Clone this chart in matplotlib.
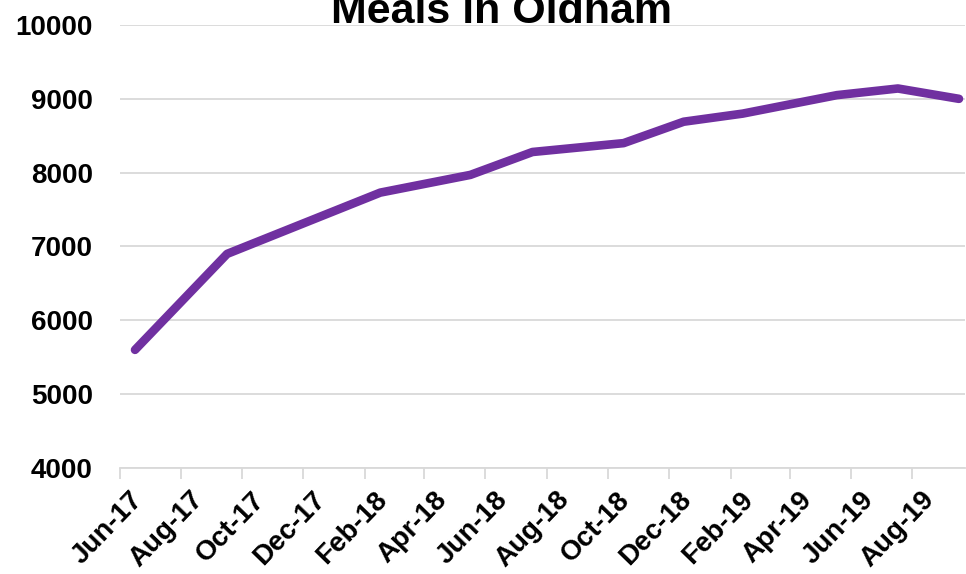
import matplotlib
matplotlib.use("Agg")
import matplotlib.pyplot as plt
import matplotlib.transforms as mtrans
import pandas as pd

# Data
dates = ["2017-06-16", "2017-09-16", "2018-02-16", "2018-05-17", "2018-07-18",
         "2018-10-17", "2018-12-16", "2019-02-13", "2019-05-18", "2019-07-18",
         "2019-09-17"]
meals = [5600, 6900, 7730, 7970, 8280, 8400, 8690, 8800, 9050, 9140, 9000]
tick_dates = ["2017-06-01", "2017-08-01", "2017-10-01", "2017-12-01", "2018-02-01",
              "2018-04-01", "2018-06-01", "2018-08-01", "2018-10-01", "2018-12-01",
              "2019-02-01", "2019-04-01", "2019-06-01", "2019-08-01"]
tick_labels = ["Jun-17", "Aug-17", "Oct-17", "Dec-17", "Feb-18", "Apr-18", "Jun-18",
               "Aug-18", "Oct-18", "Dec-18", "Feb-19", "Apr-19", "Jun-19", "Aug-19"]
y_ticks = [4000, 5000, 6000, 7000, 8000, 9000, 10000]
title = "Meals in Oldham"

plt.rcParams['font.family'] = ['Liberation Sans', 'DejaVu Sans']

W, H = 966, 574
fig = plt.figure(figsize=(W / 100, H / 100), dpi=100)
ax = fig.add_axes([120 / W, 1 - 468 / H, (965 - 120) / W, (468 - 25) / H])

x = pd.to_datetime(dates)
ax.plot(x, meals, color="#7030A0", linewidth=6.2, solid_capstyle="round",
        solid_joinstyle="round", zorder=3)

ax.set_ylim(4000, 10000)
ax.set_yticks(y_ticks)
ax.set_yticklabels([str(v) for v in y_ticks], fontsize=20, fontweight="bold")
ax.set_xlim(pd.Timestamp("2017-06-01"), pd.Timestamp("2019-09-23"))
ax.set_xticks(pd.to_datetime(tick_dates))
ax.set_xticklabels(tick_labels, fontsize=20, fontweight="bold", rotation=46,
                   ha="right", va="top", rotation_mode="anchor")

ax.grid(axis="y", color="#D9D9D9", linewidth=1.3, zorder=0)
ax.set_axisbelow(True)
for s in ["top", "right", "left"]:
    ax.spines[s].set_visible(False)
ax.spines["bottom"].set_color("#D9D9D9")
ax.spines["bottom"].set_linewidth(1.3)
ax.tick_params(axis="y", length=0, pad=19.5)
ax.tick_params(axis="x", length=8, width=1.3, color="#D9D9D9", pad=5.5)

offset = mtrans.ScaledTranslation(9 / 100, 0, fig.dpi_scale_trans)
for lbl in ax.get_xticklabels():
    lbl.set_transform(lbl.get_transform() + offset)

fig.text(502 / W, 1 - 23 / H, title, ha="center", va="baseline",
         fontsize=31, fontweight="bold")

fig.savefig("out.png", dpi=100)
